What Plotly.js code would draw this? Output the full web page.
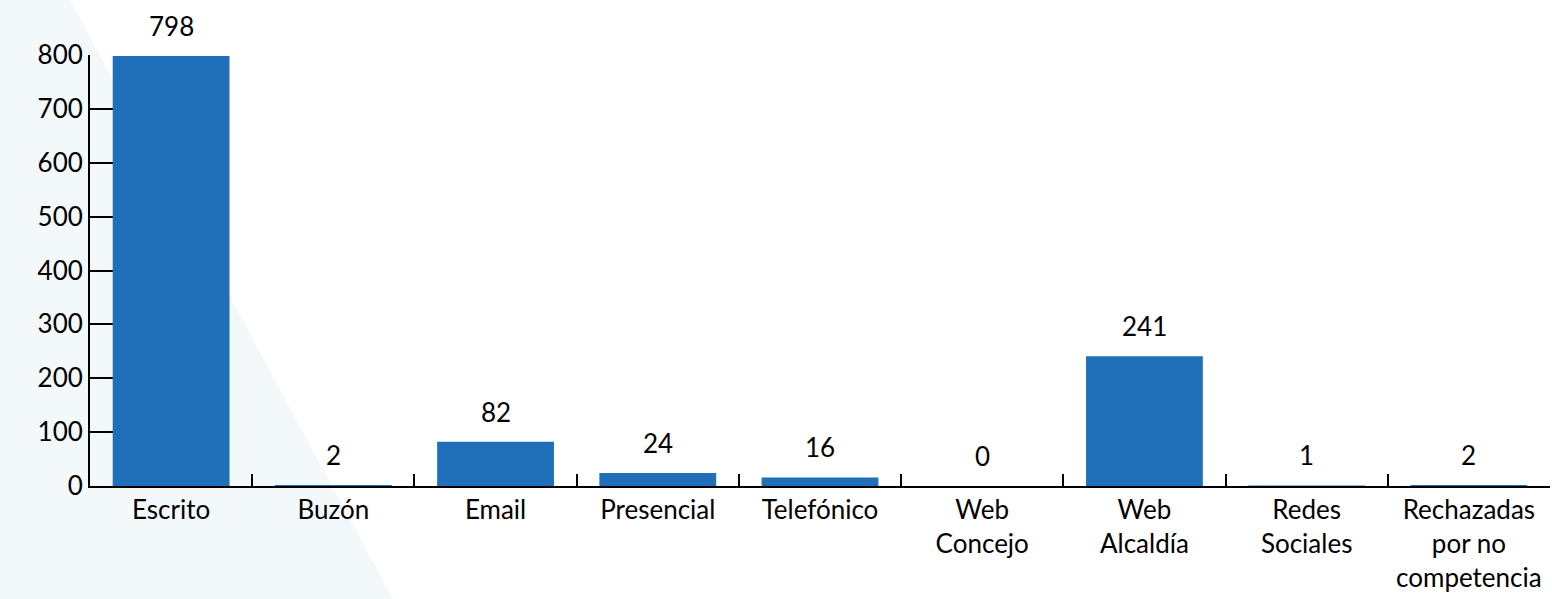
<!DOCTYPE html>
<html>
<head>
<meta charset="utf-8">
<script src="https://cdn.plot.ly/plotly-3.0.1.min.js"></script>
<style>
  html, body { margin: 0; padding: 0; background: #ffffff; }
  #wrap { position: relative; width: 1552px; height: 599px; overflow: hidden; }
  #bgshape { position: absolute; left: 0; top: 0; width: 1552px; height: 599px; background: #f3f8fb;
             clip-path: polygon(0px 0px, 70px 0px, 393px 599px, 0px 599px); z-index: 0; }
  #chart { position: absolute; left: 0; top: 0; width: 1552px; height: 599px; z-index: 1; }
</style>
</head>
<body>
<div id="wrap">
  <div id="bgshape"></div>
  <div id="chart"></div>
</div>
<script>
const categories = ["Escrito", "Buzón", "Email", "Presencial", "Telefónico", "Web<br>Concejo", "Web<br>Alcaldía", "Redes<br>Sociales", "Rechazadas<br>por no<br>competencia"];
const values = [798, 2, 82, 24, 16, 0, 241, 1, 2];
const yTicks = [0, 100, 200, 300, 400, 500, 600, 700, 800];

const FONT = "Lato, sans-serif";
const BAR_COLOR = "#1f70b8";

const trace = {
  type: "bar",
  x: categories,
  y: values,
  marker: { color: BAR_COLOR },
  cliponaxis: false
};

const annotations = categories.map((c, i) => ({
  x: c,
  y: values[i],
  xref: "x",
  yref: "y",
  text: String(values[i]),
  showarrow: false,
  yanchor: "bottom",
  xanchor: "center",
  yshift: 12,
  font: { family: FONT, size: 26, color: "#000000" }
}));

const layout = {
  width: 1552,
  height: 599,
  margin: { l: 90, r: 2, t: 55, b: 113 },
  paper_bgcolor: "rgba(0,0,0,0)",
  plot_bgcolor: "rgba(0,0,0,0)",
  font: { family: FONT, size: 26, color: "#000000" },
  showlegend: false,
  bargap: 0.28,
  xaxis: {
    type: "category",
    showline: true,
    linewidth: 2,
    linecolor: "#000000",
    ticks: "inside",
    tickson: "boundaries",
    ticklen: 12,
    tickwidth: 2,
    tickcolor: "#000000",
    layer: "below traces"
  },
  yaxis: {
    range: [0, 800],
    tickvals: yTicks,
    ticksuffix: "\u00a0\u00a0\u00a0",
    showline: true,
    linewidth: 2,
    linecolor: "#000000",
    ticks: "inside",
    ticklen: 37,
    tickwidth: 2,
    tickcolor: "#000000",
    showgrid: false,
    zeroline: false,
    layer: "below traces"
  },
  annotations: annotations
};

Plotly.newPlot("chart", [trace], layout, { displayModeBar: false, staticPlot: true });
</script>
</body>
</html>
